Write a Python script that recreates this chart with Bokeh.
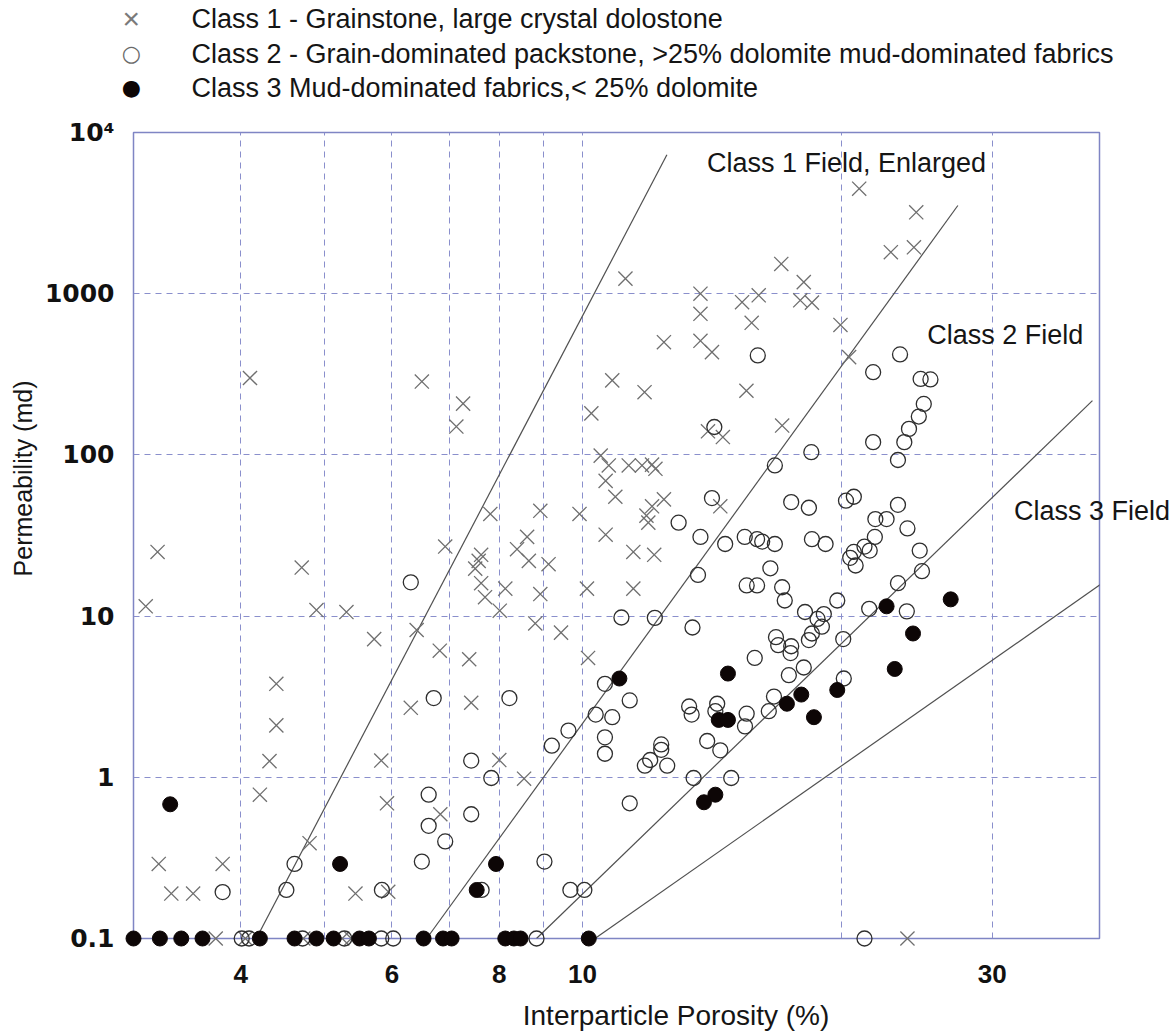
from bokeh.plotting import figure
from bokeh.models import FixedTicker, ColumnDataSource
from bokeh.core.properties import value
from bokeh.embed import file_html
from bokeh.resources import INLINE

# ---------------- data (porosity %, permeability md) ----------------
class1_por = [4.10, 6.50, 7.26, 7.13, 3.20, 3.10, 4.71, 4.90, 5.31, 5.72, 6.92, 6.41, 6.82, 4.40, 4.40,
              4.32, 4.21, 3.21, 3.81, 3.32, 3.52, 4.81, 5.44, 5.94, 5.83, 5.92, 6.31, 6.83, 7.38, 7.42,
              8.00, 8.55, 10.24, 14.0, 14.57, 17.08, 10.50, 10.73, 11.32, 11.73, 12.05, 12.16, 10.64,
              10.92, 12.44, 12.05, 11.87, 11.93, 14.47, 7.81, 8.93, 9.92, 8.62, 8.39, 8.66, 7.62, 7.57,
              7.50, 9.13, 10.64, 11.46, 12.12, 7.62, 8.13, 7.70, 8.01, 8.93, 10.12, 11.46, 8.81, 9.44,
              10.15, 11.22, 13.72, 13.72, 13.72, 14.15, 15.34, 16.04, 15.74, 17.04, 12.44, 10.83, 11.81,
              15.52, 21.0, 24.47, 22.86, 24.32, 18.1, 17.93, 18.5, 19.97, 20.44,
              3.74, 4.05, 4.73, 5.25, 5.38, 23.9]
class1_perm = [300, 285, 208, 150, 25, 11.5, 20, 10.9, 10.6, 7.2, 27, 8.2, 6.1, 3.8, 2.1,
               1.26, 0.78, 0.29, 0.29, 0.19, 0.19, 0.39, 0.19, 0.195, 1.27, 0.69, 2.7, 0.59, 5.4, 2.9,
               1.28, 0.98, 181, 140, 129, 152, 99, 86, 86, 86, 87, 82, 69,
               55, 53, 48, 42, 38, 48, 43, 45, 43, 31, 26, 22, 24, 22,
               19.7, 21, 32, 25, 24, 16, 14.8, 13.1, 10.8, 13.7, 14.8, 14.8, 9.0, 7.9,
               5.5, 1240, 1000, 750, 510, 434, 886, 977, 660, 1530, 500, 290, 245,
               250, 4480, 3200, 1810, 1940, 1180, 910, 880, 640, 404,
               0.1, 0.1, 0.1, 0.1, 0.1, 0.1]

class2_por = [16.0, 23.43, 21.8, 24.76, 25.42, 24.97, 24.64, 24.0, 23.7, 23.3, 21.8, 18.47, 14.24, 16.75,
              17.5, 14.15, 12.94, 13.72, 14.66, 15.45, 15.97, 16.19, 16.75, 18.35, 20.27, 20.7, 23.3,
              21.93, 22.6, 23.9, 21.9, 18.5, 19.19, 20.7, 20.5, 20.8, 21.3, 21.6, 24.7, 24.85, 23.3,
              16.55, 15.53, 15.97, 17.08, 17.2, 19.8, 13.63, 11.1, 12.14, 13.43, 21.57, 23.86, 18.16,
              19.1, 18.78, 19.0, 18.5, 18.35, 16.8, 16.9, 17.5, 17.47, 20.12, 18.1, 17.39, 20.15, 15.87,
              10.62, 11.35, 10.36, 10.83, 10.62, 10.62, 9.63, 9.21, 8.22, 7.42, 7.83, 7.42, 6.92, 7.63,
              9.03, 9.68, 10.05, 6.71, 6.62, 6.62, 6.5, 6.31, 4.62, 4.52, 3.81, 5.84, 15.46, 15.53,
              13.31, 13.4, 14.35, 14.28, 16.48, 16.71, 13.97, 14.47, 12.35, 12.35, 11.99, 11.82, 12.55,
              13.47, 14.9, 11.35,
              4.01, 4.09, 4.72, 5.28, 5.83, 6.02, 8.84, 21.3]
class2_perm = [414, 420, 326, 296, 294, 207, 173, 145, 120, 93, 120, 104, 149, 86,
               51, 54, 38, 31, 28, 31, 30, 29, 28, 47, 52, 55, 49,
               40, 40, 35, 31, 30, 28, 25, 23, 20.6, 27, 25.5, 25.5, 19, 16,
               19.8, 15.5, 15.5, 15.1, 12.5, 12.5, 18, 9.8, 9.75, 8.5, 11.1, 10.7, 10.6,
               10.3, 9.6, 8.6, 7.8, 7.1, 7.4, 6.6, 6.5, 5.9, 7.2, 4.8, 4.3, 4.1, 5.5,
               3.8, 3.0, 2.45, 2.36, 1.77, 1.4, 1.95, 1.57, 3.1, 1.27, 0.99, 0.59, 0.40, 0.2,
               0.3, 0.2, 0.2, 3.1, 0.78, 0.5, 0.3, 16.2, 0.29, 0.2, 0.194, 0.2, 2.07, 2.48,
               2.75, 2.45, 2.86, 2.57, 2.57, 3.17, 1.68, 1.47, 1.6, 1.48, 1.28, 1.18, 1.18,
               0.99, 0.99, 0.69,
               0.1, 0.1, 0.1, 0.1, 0.1, 0.1, 0.1, 0.1]

class3_por = [3.31, 5.22, 7.93, 7.53, 11.04, 14.77, 14.41, 14.77, 14.28, 13.85, 17.3, 17.98, 19.8,
              18.6, 22.6, 26.84, 24.26, 23.1,
              3.0, 3.22, 3.41, 3.61, 4.21, 4.62, 4.90, 5.13, 5.50, 5.64, 6.53, 6.88, 7.04, 8.13,
              8.32, 8.47, 10.17]
class3_perm = [0.68, 0.29, 0.29, 0.2, 4.1, 4.4, 2.27, 2.27, 0.78, 0.70, 2.86, 3.26, 3.48,
               2.36, 11.5, 12.7, 7.8, 4.7,
               0.1, 0.1, 0.1, 0.1, 0.1, 0.1, 0.1, 0.1, 0.1, 0.1, 0.1, 0.1, 0.1, 0.1,
               0.1, 0.1, 0.1]

# field boundary lines (start and end points, porosity %, permeability md)
field_x0 = [4.17, 6.585, 8.84, 10.34]
field_y0 = [0.1, 0.1, 0.1, 0.1]
field_x1 = [12.54, 27.36, 39.25, 40.1]
field_y1 = [7270, 3524, 217, 15.7]

field_labels = ["Class 1 Field, Enlarged", "Class 2 Field", "Class 3 Field"]
legend_labels = ["Class 1 - Grainstone,  large crystal dolostone",
                 "Class 2 - Grain-dominated packstone, >25% dolomite mud-dominated fabrics",
                 "Class 3 Mud-dominated fabrics,< 25% dolomite"]
legend_symbols = ["\u00d7", "\u25cb", "\u25cf"]
x_title = "Interparticle Porosity (%)"
y_title = "Permeability (md)"

x_ticks = [4, 6, 8, 10, 30]
x_grid = [4, 5, 6, 7, 8, 9, 10, 20, 30]
y_ticks = [0.1, 1, 10, 100, 1000, 10000]
y_tick_labels = ["0.1", "1", "10", "100", "1000", "10\u2074"]

# ---------------- placement of texts / key (in the chart's own coordinates) ----------------
FIELD_LABEL_X = [13.96, 25.2, 31.8]
FIELD_LABEL_Y = [6427, 551, 44.6]
KEY_MARK_X = 2.983          # key symbols, left of the frame
KEY_TEXT_X = 3.504
KEY_ROW_Y = [50930, 30900, 19010]
X_TITLE_POS = (12.85, 0.0333)
Y_TITLE_POS = (2.233, 71.4)

# ---------------- styles ----------------
FONT = "Liberation Sans"
GRID = "#8a8fcc"
TXT = "#151515"
C1 = dict(marker="x", line_color="#6f6f6f", line_width=1.3)
C2 = dict(marker="circle", fill_color=None, line_color="#2e2e2e", line_width=1.3)
C3 = dict(marker="circle", fill_color="#0d0606", line_color="#0d0606", line_width=1)

p = figure(width=1175, height=1032, x_axis_type="log", y_axis_type="log",
           x_range=(3, 40), y_range=(0.1, 10000),
           output_backend="svg", toolbar_location=None,
           min_border_left=133, min_border_right=76, min_border_top=132, min_border_bottom=94)
p.background_fill_color = "white"
p.border_fill_color = "white"
p.outline_line_color = "#7f85c4"
p.outline_line_width = 1.5

p.xaxis.ticker = FixedTicker(ticks=x_ticks)
p.xgrid.ticker = FixedTicker(ticks=x_grid)
p.yaxis.ticker = FixedTicker(ticks=y_ticks)
p.ygrid.ticker = FixedTicker(ticks=y_ticks)
p.xaxis.major_label_overrides = {t: str(t) for t in x_ticks}
p.yaxis.major_label_overrides = dict(zip(y_ticks, y_tick_labels))

for ax in (p.xaxis[0], p.yaxis[0]):
    ax.axis_line_color = None
    ax.major_tick_line_color = None
    ax.minor_tick_line_color = None
    ax.major_label_text_color = "#111111"
    ax.major_label_text_font_style = "bold"

p.xaxis.major_label_text_font = FONT
p.xaxis.major_label_text_font_size = "26px"
p.xaxis.major_label_standoff = 20
p.yaxis.major_label_text_font = "DejaVu Sans"
p.yaxis.major_label_text_font_size = "25px"
p.yaxis.major_label_standoff = 13

p.grid.grid_line_color = GRID
p.grid.grid_line_dash = "6 5"
p.grid.grid_line_width = 1

# field lines
p.segment(x0=field_x0, y0=field_y0, x1=field_x1, y1=field_y1,
          line_color="#505050", line_width=1.2)

src1 = ColumnDataSource(dict(x=class1_por, y=class1_perm))
src2 = ColumnDataSource(dict(x=class2_por, y=class2_perm))
src3 = ColumnDataSource(dict(x=class3_por, y=class3_perm))

p.scatter(x="x", y="y", source=src1, size=20, level="annotation", **C1)
p.scatter(x="x", y="y", source=src2, size=15, level="annotation", **C2)
p.scatter(x="x", y="y", source=src3, size=15, level="annotation", **C3)

# field labels
p.text(x=FIELD_LABEL_X, y=FIELD_LABEL_Y, text=field_labels, text_align="left",
       text_baseline="middle", text_font=value(FONT), text_font_size="27px",
       text_color=TXT, level="annotation")

# axis titles (placed like the reference, off-centre)
p.text(x=[X_TITLE_POS[0]], y=[X_TITLE_POS[1]], text=[x_title], text_align="center",
       text_baseline="middle", text_font=value(FONT), text_font_size="28px",
       text_color=TXT, level="annotation")
p.text(x=[Y_TITLE_POS[0]], y=[Y_TITLE_POS[1]], text=[y_title], text_align="center",
       text_baseline="middle", angle=1.5707963, text_font=value(FONT),
       text_font_size="25px", text_color=TXT, level="annotation")

# key (legend) above the frame: symbol + description per class
p.text(x=[KEY_MARK_X], y=[KEY_ROW_Y[0]], text=[legend_symbols[0]], text_align="center",
       text_baseline="middle", text_font=value(FONT), text_font_size="30px",
       text_color="#7a7a7a", level="annotation")
p.text(x=[KEY_MARK_X] * 2, y=KEY_ROW_Y[1:], text=legend_symbols[1:], text_align="center",
       text_baseline="middle", text_font=value("DejaVu Sans"), text_font_size="22px",
       text_color=["#6a6a6a", "#0d0606"], level="annotation")
p.text(x=[KEY_TEXT_X] * 3, y=KEY_ROW_Y, text=legend_labels, text_align="left",
       text_baseline="middle", text_font=value(FONT), text_font_size="27px",
       text_color=TXT, level="annotation")

open("out.html", "w").write(file_html(p, INLINE))
